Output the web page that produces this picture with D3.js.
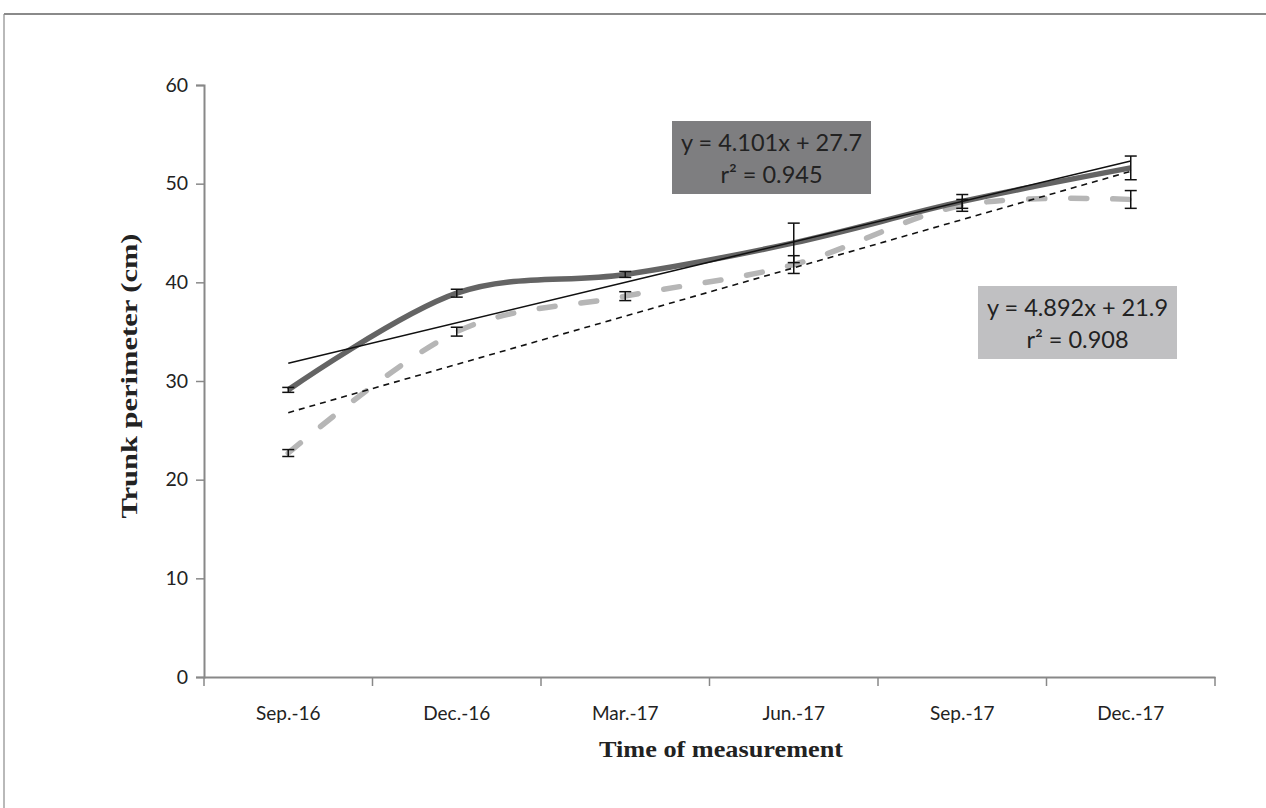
<!DOCTYPE html>
<html><head><meta charset="utf-8">
<script src="https://cdn.jsdelivr.net/npm/d3@7"></script>
<style>body{margin:0;background:#fff}svg{display:block}</style>
</head><body>
<svg id="c" width="1266" height="808"></svg>
<script>
const categories = ["Sep.-16","Dec.-16","Mar.-17","Jun.-17","Sep.-17","Dec.-17"];
const seriesA = [29.1, 38.9, 40.8, 44.0, 48.2, 51.6];
const errA    = [0.25, 0.4, 0.3, 2.0, 0.7, 1.2];
const seriesB = [22.7, 35.0, 38.6, 41.8, 47.8, 48.4];
const errB    = [0.35, 0.45, 0.45, 0.9, 0.6, 0.9];
const trendA = [4.101, 27.7];  // slope, intercept
const trendB = [4.892, 21.9];
const labelA = ["y = 4.101x + 27.7", "r\u00B2 = 0.945"];
const labelB = ["y = 4.892x + 21.9", "r\u00B2 = 0.908"];
const yTicks = [0,10,20,30,40,50,60];

const svg = d3.select("#c");
svg.append("rect").attr("width",1266).attr("height",808).attr("fill","#fff");
// frame
svg.append("line").attr("x1",4).attr("x2",1266).attr("y1",14).attr("y2",14).attr("stroke","#8a8a8a").attr("stroke-width",2);
svg.append("line").attr("x1",4).attr("x2",4).attr("y1",14).attr("y2",808).attr("stroke","#8a8a8a").attr("stroke-width",1.2);

const x = d3.scaleBand().domain(categories).range([204,1215]);
const xc = d => x(d) + x.bandwidth()/2;
const xi = i => xc(categories[i-1]);
const y = d3.scaleLinear().domain([0,60]).range([677,85]);

const font = "Lato, 'Open Sans', sans-serif";
// y axis
const ya = svg.append("g").attr("transform","translate(204,0)")
  .call(d3.axisLeft(y).tickValues(yTicks).tickSize(8).tickPadding(8));
ya.select(".domain").attr("stroke","#888").attr("stroke-width",2);
ya.selectAll(".tick line").attr("stroke","#888").attr("stroke-width",1.5);
ya.selectAll("text").attr("font-family",font).attr("font-size",19.5).attr("fill","#222");
// x axis
const xa = svg.append("g").attr("transform","translate(0,677)")
  .call(d3.axisBottom(x).tickSize(0).tickPadding(30));
xa.select(".domain").attr("stroke","#888").attr("stroke-width",2);
xa.selectAll("text").attr("font-family",font).attr("font-size",19).attr("fill","#222");
// boundary ticks
const bounds = categories.map(c => x(c)).concat([x(categories[categories.length-1]) + x.bandwidth()]);
svg.append("g").selectAll("line").data(bounds).join("line")
  .attr("x1",d=>d).attr("x2",d=>d).attr("y1",677).attr("y2",686)
  .attr("stroke","#888").attr("stroke-width",1.5);

// series lines
const line = d3.line().x((d,i)=>xc(categories[i])).y(d=>y(d)).curve(d3.curveCatmullRom.alpha(0));
svg.append("path").datum(seriesB).attr("d",line).attr("fill","none")
  .attr("stroke","#b6b6b6").attr("stroke-width",5.5).attr("stroke-linecap","round")
  .attr("stroke-dasharray","16,26");
svg.append("path").datum(seriesA).attr("d",line).attr("fill","none")
  .attr("stroke","#646464").attr("stroke-width",5.5);

// trendlines
function trend(t){ return [1,6].map(v => [xi(v), y(t[0]*v + t[1])]); }
svg.append("path").attr("d", d3.line()(trend(trendA))).attr("stroke","#111").attr("stroke-width",1.6).attr("fill","none");
svg.append("path").attr("d", d3.line()(trend(trendB))).attr("stroke","#111").attr("stroke-width",1.6)
  .attr("stroke-dasharray","6,5").attr("fill","none");

// error bars
function errBars(vals, errs){
  const g = svg.append("g").attr("stroke","#111").attr("stroke-width",1.5);
  vals.forEach((v,i)=>{
    const cx = xc(categories[i]);
    g.append("line").attr("x1",cx).attr("x2",cx).attr("y1",y(v-errs[i])).attr("y2",y(v+errs[i]));
    [v-errs[i], v+errs[i]].forEach(e=>{
      g.append("line").attr("x1",cx-6).attr("x2",cx+6).attr("y1",y(e)).attr("y2",y(e));
    });
  });
}
errBars(seriesA, errA);
errBars(seriesB, errB);

// equation labels
function eqBox(lines, x0, y0, w, h, fill){
  svg.append("rect").attr("x",x0).attr("y",y0).attr("width",w).attr("height",h).attr("fill",fill);
  lines.forEach((t,k)=>{
    svg.append("text").attr("x",x0+w/2).attr("y",y0+30+k*32).attr("text-anchor","middle")
      .attr("font-family",font).attr("font-size",23.5).attr("fill","#222").text(t);
  });
}
eqBox(labelA, 672, 121, 199, 73, "#7e7e80");
eqBox(labelB, 978, 286, 199, 73, "#c0c0c2");

// axis titles
svg.append("text").attr("transform","translate(137,376) rotate(-90)").attr("text-anchor","middle")
  .attr("font-family","'Liberation Serif', serif").attr("font-weight","bold").attr("font-size",23)
  .attr("fill","#222").attr("textLength",285).attr("lengthAdjust","spacingAndGlyphs").text("Trunk perimeter (cm)");
svg.append("text").attr("x",721).attr("y",757).attr("text-anchor","middle")
  .attr("font-family","'Liberation Serif', serif").attr("font-weight","bold").attr("font-size",23)
  .attr("fill","#222").attr("textLength",244).attr("lengthAdjust","spacingAndGlyphs").text("Time of measurement");
</script>
</body></html>
